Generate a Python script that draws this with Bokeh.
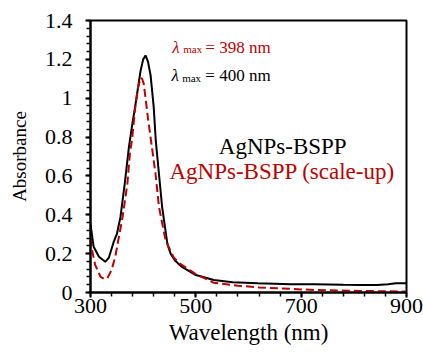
from bokeh.plotting import figure
from bokeh.models import Range1d, Label, FixedTicker
from bokeh.embed import file_html
from bokeh.resources import INLINE

# ---- data ----
wl_black = [300, 306, 316, 328, 335, 344, 350, 357, 365, 373, 379, 385, 390, 395, 400, 404.5,
            409, 414, 420, 424, 430, 436, 446, 452, 461, 473, 500, 534, 570, 618, 680, 725,
            780, 814, 845, 865, 880, 900]
ab_black = [0.35, 0.235, 0.184, 0.158, 0.18, 0.26, 0.30, 0.39, 0.56, 0.75, 0.86, 0.96, 1.05,
            1.14, 1.20, 1.22, 1.19, 1.12, 0.955, 0.78, 0.61, 0.44, 0.25, 0.20, 0.163, 0.133,
            0.09, 0.064, 0.053, 0.047, 0.043, 0.042, 0.040, 0.039, 0.039, 0.043, 0.047, 0.047]

wl_red = [300, 303, 309, 319, 326, 332, 340, 347, 354, 361, 370, 375, 379, 385, 390, 395,
          398, 401, 405, 409, 413, 417, 423.5, 430, 442.5, 458, 471, 500, 534, 580, 620,
          700, 725, 814, 900]
ab_red = [0.28, 0.218, 0.141, 0.081, 0.07, 0.073, 0.116, 0.184, 0.287, 0.39, 0.56, 0.72,
          0.79, 0.955, 1.05, 1.105, 1.10, 1.075, 0.99, 0.90, 0.82, 0.74, 0.61, 0.44, 0.27,
          0.18, 0.146, 0.095, 0.05, 0.035, 0.026, 0.016, 0.013, 0.008, 0.005]

x_ticks = [300, 500, 700, 900]
y_ticks = [0, 0.2, 0.4, 0.6, 0.8, 1.0, 1.2, 1.4]
y_tick_labels = {0: "0", 0.2: "0.2", 0.4: "0.4", 0.6: "0.6", 0.8: "0.8", 1.0: "1", 1.2: "1.2", 1.4: "1.4"}

name_black = "AgNPs-BSPP"
name_red = "AgNPs-BSPP (scale-up)"
lam_red = "= 398 nm"
lam_black = "= 400 nm"

RED = "#C00000"
FONT = "Liberation Serif"

p = figure(frame_width=316, frame_height=272, output_backend="svg", toolbar_location=None,
           x_range=Range1d(300, 900), y_range=Range1d(0, 1.4),
           min_border_left=90, min_border_right=17, min_border_top=20, min_border_bottom=61)
p.background_fill_color = "white"
p.border_fill_color = "white"
p.grid.visible = False
p.outline_line_color = "black"
p.outline_line_width = 2

p.line(wl_black, ab_black, line_color="black", line_width=2)
p.line(wl_red, ab_red, line_color=RED, line_width=2, line_dash="8 4")

p.xaxis.ticker = FixedTicker(ticks=x_ticks, minor_ticks=list(range(300, 901, 40)))
p.yaxis.ticker = FixedTicker(ticks=y_ticks, minor_ticks=[round(i * 0.04, 2) for i in range(36)])
p.yaxis.major_label_overrides = y_tick_labels

for ax in (p.xaxis[0], p.yaxis[0]):
    ax.axis_line_width = 2
    ax.axis_line_color = "black"
    ax.major_tick_line_width = 2
    ax.minor_tick_line_width = 1.5
    ax.major_tick_in = 0
    ax.minor_tick_in = 0
    ax.major_tick_out = 5
    ax.minor_tick_out = 4
    ax.major_label_text_font = FONT
    ax.major_label_text_font_size = "22px"
    ax.major_label_text_color = "black"
    ax.axis_label_text_font = FONT
    ax.axis_label_text_font_style = "normal"
    ax.axis_label_text_color = "black"

p.xaxis.axis_label = "Wavelength (nm)"
p.yaxis.axis_label = "Absorbance"
p.xaxis.axis_label_text_font_size = "23px"
p.yaxis.axis_label_text_font_size = "19px"
p.xaxis.major_label_standoff = 1
p.xaxis.axis_label_standoff = 4
p.yaxis.major_label_standoff = 13
p.yaxis.axis_label_standoff = 12

# lambda_max annotations
def lam(x, y, xs, ys, xr, rest, color):
    p.add_layout(Label(x=x, y=y, text="λ", text_font=FONT, text_font_style="italic",
                       text_font_size="17px", text_color=color, text_baseline="alphabetic"))
    p.add_layout(Label(x=xs, y=ys, text="max", text_font=FONT, text_font_size="11px",
                       text_color=color, text_baseline="alphabetic"))
    p.add_layout(Label(x=xr, y=y, text=rest, text_font=FONT, text_font_size="17px",
                       text_color=color, text_baseline="alphabetic"))

lam(455, 1.262, 476, 1.2526, 518, lam_red, RED)
lam(454, 1.119, 474, 1.1056, 518, lam_black, "black")

p.add_layout(Label(x=665, y=0.749, text=name_black, text_font=FONT, text_font_size="23px",
                   text_color="black", text_align="center", text_baseline="alphabetic"))
p.add_layout(Label(x=664, y=0.624, text=name_red, text_font=FONT, text_font_size="23px",
                   text_color=RED, text_align="center", text_baseline="alphabetic"))

open("out.html", "w").write(file_html(p, INLINE))
